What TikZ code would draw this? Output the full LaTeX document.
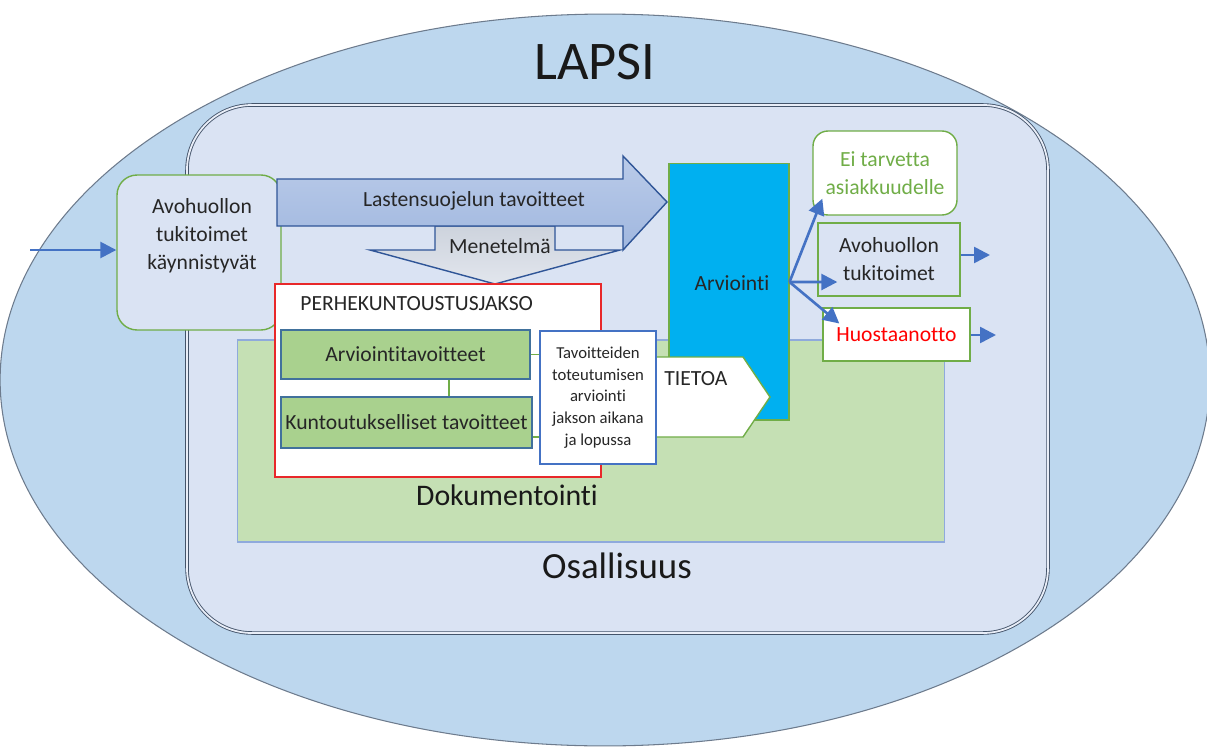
\documentclass[tikz,border=0pt]{standalone}
\usepackage{fontspec}
\setmainfont{Carlito}[Ligatures=NoCommon]
\usetikzlibrary{positioning,calc,arrows.meta}
\definecolor{lapsiblue}{HTML}{BDD7EE}
\definecolor{rimgray}{HTML}{6D7B8D}
\definecolor{innerblue}{HTML}{DAE3F3}
\definecolor{slate}{HTML}{44546A}
\definecolor{docgreen}{HTML}{C5E0B4}
\definecolor{goalgreen}{HTML}{A9D18E}
\definecolor{goaledge}{HTML}{41719C}
\definecolor{okgreen}{HTML}{70AD47}
\definecolor{arrowblue}{HTML}{4472C4}
\definecolor{darkblue}{HTML}{2F5597}
\definecolor{cyanbox}{HTML}{00B0F0}
\definecolor{lightedge}{HTML}{8FAADC}
\definecolor{arrowtop}{HTML}{BACBE9}
\definecolor{arrowbot}{HTML}{A0B7DF}
\definecolor{menetop}{HTML}{CDD3DD}
\definecolor{menebot}{HTML}{E2E6ED}
\definecolor{jaksored}{HTML}{E8282A}

\begin{document}
\begin{tikzpicture}[x=0.02cm,y=-0.02cm,
    txt/.style={font=\fontsize{12.3}{16}\selectfont,text=black!85,align=center,inner sep=0pt},
    greenbox/.style={draw=okgreen,line width=0.8pt,inner sep=0pt,txt},
    goalbox/.style={draw=goaledge,fill=goalgreen,line width=0.9pt,inner sep=0pt,txt},
    link/.style={draw=okgreen,line width=0.8pt},
    flow/.style={draw=arrowblue,line width=1.5pt,-{Triangle[length=3.2mm,width=3.2mm]}}]
    \useasboundingbox (0,0) rectangle (1207,747);

    % Lapsi
    \draw[draw=rimgray,fill=lapsiblue,line width=0.6pt] (605,380) ellipse [x radius=12.1cm,y radius=7.32cm];
    \node[font=\fontsize{31}{36}\selectfont,text=black!90] (lapsi) at (595,62) {LAPSI};

    % Osallisuus
    \draw[draw=slate,double=innerblue!60!white,double distance=1pt,line width=0.5pt,fill=innerblue,rounded corners=1.3cm] (187,105) rectangle (1048,633);
    \node[font=\fontsize{21}{25}\selectfont,text=black!90] (osal) at (617,566) {Osallisuus};

    % Dokumentointi
    \node[draw=lightedge,fill=docgreen,line width=0.6pt,minimum width=14.16cm,minimum height=4.04cm,inner sep=0pt] (doc) at (591,441) {};
    \node[font=\fontsize{17}{20}\selectfont,text=black!90] (doctxt) at (507,495) {Dokumentointi};

    % Avohuollon tukitoimet kaynnistyvat
    \node[greenbox,fill=innerblue,rounded corners=0.4cm,minimum width=3.28cm,minimum height=3.1cm] (tuki) at (199,252.5) {};
    \node[txt] (tukitxt) at (202,236) {Avohuollon\\tukitoimet\\käynnistyvät};
    \coordinate (alku) at (30,250);
    \draw[flow] (alku) -- (tuki.west |- alku);

    % Menetelma
    \draw[draw=darkblue,line width=0.8pt,top color=menetop,bottom color=menebot] (435,226) -- (555,226) -- (555,250) -- (620,250) -- (495,284) -- (370,250) -- (435,250) -- cycle;
    \node[txt] (mene) at (500,246) {Menetelmä};

    % Lastensuojelun tavoitteet
    \draw[draw=darkblue,line width=0.8pt,top color=arrowtop,bottom color=arrowbot] (277,179) -- (623,179) -- (623,156) -- (667,202) -- (623,250) -- (623,226) -- (277,226) -- cycle;
    \node[txt] (lsu) at (474,201) {Lastensuojelun tavoitteet};

    % Perhekuntoutusjakso
    \node[draw=jaksored,fill=white,line width=0.9pt,minimum width=6.52cm,minimum height=3.86cm,inner sep=0pt] (perhe) at (438,380.5) {};
    \node[txt,anchor=west] (perhetxt) at (300,304) {PERHEKUNTOUSTUSJAKSO};
    \node[goalbox,minimum width=4.98cm,minimum height=0.98cm] (arvt) at (405.5,354.5) {Arviointitavoitteet};
    \node[goalbox,minimum width=5.02cm,minimum height=1.02cm] (kunt) at (406.5,422.5) {Kuntoutukselliset tavoitteet};

    % Arviointi
    \node[draw=okgreen,fill=cyanbox,line width=0.6pt,minimum width=2.4cm,minimum height=5.14cm,inner sep=0pt] (arv) at (729,291.5) {};
    \node[txt] (arvtxt) at (732,283) {Arviointi};

    % Tietoa
    \draw[draw=okgreen,fill=white,line width=0.8pt] (656,357) -- (743,357) -- (770,397) -- (743,437) -- (656,437) -- cycle;
    \node[txt,anchor=west] (tieto) at (664,379) {TIETOA};

    \node[draw=arrowblue,fill=white,line width=0.8pt,minimum width=2.32cm,minimum height=2.66cm,inner sep=0pt,
        font=\fontsize{9.5}{12.3}\selectfont,text=black!85,align=center] (tav) at (598,397.5)
        {Tavoitteiden\\toteutumisen\\arviointi\\jakson aikana\\ja lopussa};

    % yhdysviivat
    \draw[link] ([xshift=0.87cm]arvt.south) -- ([xshift=0.87cm]arvt.south |- kunt.north);
    \draw[link] (arvt.east) -- (arvt.east -| tav.west);
    \coordinate (kuntx) at ([yshift=-0.29cm]kunt.east);
    \draw[link] (kuntx) -- (kuntx -| tav.west);

    % Jatko
    \node[greenbox,fill=white,rounded corners=0.3cm,minimum width=2.88cm,minimum height=1.68cm,text=okgreen] (eitarve) at (885,173) {Ei tarvetta\\asiakkuudelle};
    \node[greenbox,fill=innerblue,minimum width=2.84cm,minimum height=1.46cm] (avo) at (889,259.5) {Avohuollon\\tukitoimet};
    \node[greenbox,fill=white,minimum width=2.94cm,minimum height=1.06cm,text=red] (huos) at (896.5,334.5) {Huostaanotto};

    \coordinate (haara) at ([yshift=0.19cm]arv.east);
    \draw[flow] (haara) -- ([shift={(10,-17)}]eitarve.south west);
    \draw[flow] (haara) -- ([shift={(20,22.5)}]avo.west);
    \draw[flow] (haara) -- ([shift={(17,-11)}]huos.west);
    \coordinate (ulos1) at (990,255);
    \draw[flow] (avo.east |- ulos1) -- (ulos1);
    \coordinate (ulos2) at (996,335);
    \draw[flow] (huos.east |- ulos2) -- (ulos2);
\end{tikzpicture}
\end{document}
